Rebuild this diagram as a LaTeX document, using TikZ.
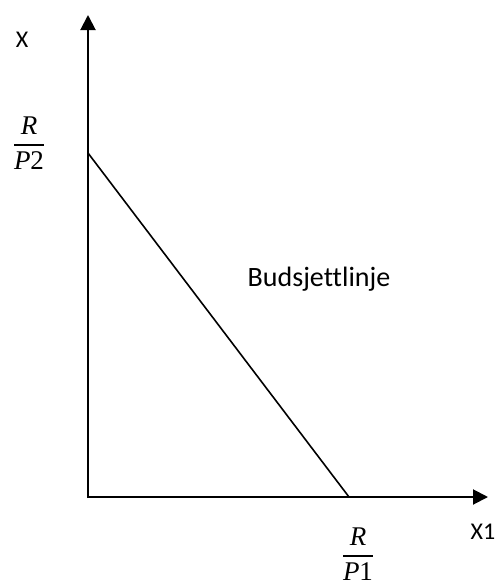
\documentclass[tikz,border=0pt]{standalone}
\usepackage{amsmath}
\usepackage{fontspec}
\setmainfont[Ligatures=NoCommon]{Carlito}
\newfontfamily\cambr{Liberation Serif}
\usetikzlibrary{arrows.meta}
\newcommand{\myfrac}[2]{$\genfrac{}{}{2pt}{0}{\text{\cambr #1}}{\text{\cambr #2}}$}
\tikzset{
  axis/.style={line width=2pt,-{Triangle[length=15pt,width=15pt]}},
  budget/.style={line width=1.6pt},
  lbl/.style={inner sep=0pt,font=\fontsize{24}{28}\selectfont},
  biglbl/.style={inner sep=0pt,font=\fontsize{28}{32}\selectfont},
  frac/.style={inner sep=0pt,font=\fontsize{27}{31}\selectfont}
}
\begin{document}
\begin{tikzpicture}[x=1pt,y=-1pt]
\useasboundingbox (0,0) rectangle (499,587);
\coordinate (O) at (88,497);
\coordinate (Ytop) at (88,15);
\coordinate (Xtip) at (488,497);
\coordinate (A) at (88,153);
\coordinate (B) at (349,497);
\draw[axis] ([yshift=-1pt]O) -- (Ytop);
\draw[axis] ([xshift=-1pt]O) -- (Xtip);
\draw[budget] (A) -- (B);
\node[lbl,anchor=base] (xlab) at (22,47) {X};
\node[lbl,anchor=base] (x1lab) at (483,539) {X1};
\node[biglbl,anchor=base] (blab) at (319,286) {Budsjettlinje};
\node[frac] (rp2) at (29,143) {\myfrac{\itshape R}{{\itshape P}2}};
\node[frac] (rp1) at (358,554) {\myfrac{\itshape R}{{\itshape P}1}};
\end{tikzpicture}
\end{document}
